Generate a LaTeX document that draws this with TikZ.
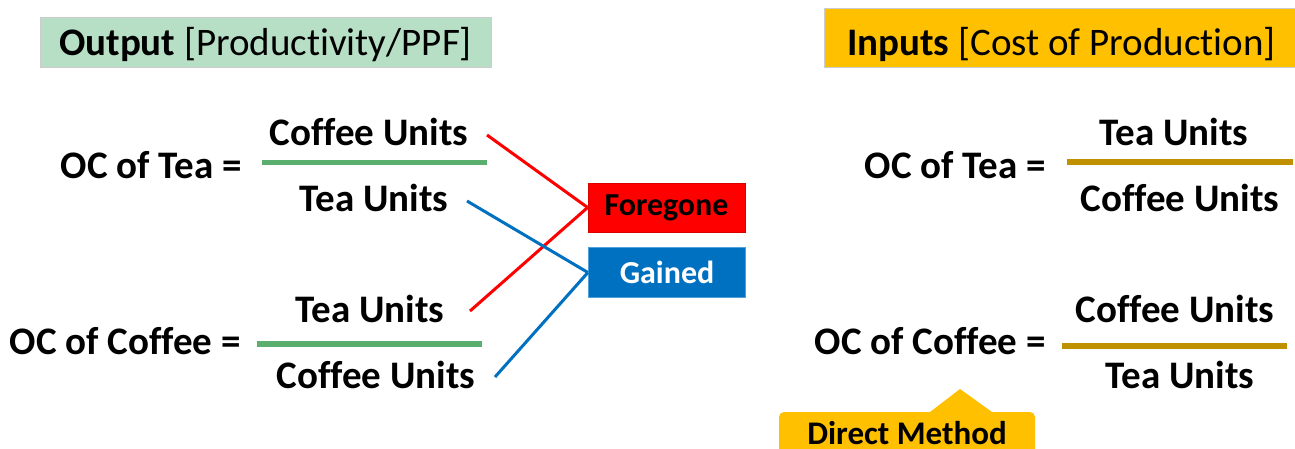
\documentclass[tikz,border=0pt]{standalone}
\usepackage{fontspec}
\setmainfont{Carlito}[Ligatures=NoCommon]
\definecolor{hdrgreen}{RGB}{183,223,197}
\definecolor{hdrgold}{RGB}{255,192,0}
\definecolor{bargreen}{RGB}{90,174,110}
\definecolor{bargold}{RGB}{191,144,0}
\definecolor{fgred}{RGB}{255,0,0}
\definecolor{gnblue}{RGB}{0,112,192}
\definecolor{gnborder}{RGB}{80,160,220}
\tikzset{
  txt/.style={inner sep=0pt, font=\fontsize{39}{41}\selectfont\bfseries},
  hdr/.style={inner sep=0pt, font=\fontsize{39}{41}\selectfont},
  gbar/.style={bargreen, line width=5.5pt},
  obar/.style={bargold, line width=6.5pt},
  redline/.style={fgred, line width=3pt},
  blueline/.style={gnblue, line width=3pt},
}
\begin{document}
\begin{tikzpicture}[x=1pt,y=-1pt]
\useasboundingbox (0,0) rectangle (1295,448);
\clip (0,0) rectangle (1295,448);
% headers
\fill[hdrgreen, draw=black!20, line width=0.6pt] (40,17) rectangle (491,67);
\node[hdr, anchor=base west] (hout) at (59,55) {\textbf{Output} [Productivity/PPF]};
\fill[hdrgold, draw=black!20, line width=0.6pt] (824,8) rectangle (1300,67);
\node[hdr, anchor=base west] (hin) at (847,55) {\textbf{Inputs} [Cost of Production]};
% left fractions
\node[txt, anchor=base east] (oct) at (242,178) {OC of Tea =};
\node[txt, anchor=base] (t1num) at (369,145) {Coffee Units};
\coordinate (lb1a) at (262,162.5);
\coordinate (lb1b) at (487,162.5);
\draw[gbar] (lb1a) -- (lb1b);
\node[txt, anchor=base] (t1den) at (374,211) {Tea Units};
\node[txt, anchor=base east] (occ) at (241,354) {OC of Coffee =};
\node[txt, anchor=base] (c1num) at (370,322) {Tea Units};
\coordinate (lb2a) at (257,344);
\coordinate (lb2b) at (482,344);
\draw[gbar] (lb2a) -- (lb2b);
\node[txt, anchor=base] (c1den) at (376,388) {Coffee Units};
% boxes
\node[fill=fgred, draw=fgred!85!black, line width=0.8pt, minimum width=157pt, minimum height=49pt, inner sep=0pt,
      font=\fontsize{32}{34}\selectfont\bfseries] (fore) at (666.5,207.5) {Foregone};
\node[fill=gnblue, draw=gnborder, line width=1.2pt, minimum width=157pt, minimum height=50pt, inner sep=0pt,
      text=white, font=\fontsize{32}{34}\selectfont\bfseries] (gain) at (667,272.5) {Gained};
% connectors
\coordinate (r1) at (487,135);
\coordinate (r2) at (470,311);
\coordinate (b1) at (467,201);
\coordinate (b2) at (495,377);
\draw[redline] (r1) -- (fore.west);
\draw[redline] (r2) -- (fore.west);
\draw[blueline] (b1) -- (gain.west);
\draw[blueline] (b2) -- (gain.west);
% right fractions
\node[txt, anchor=base east] (roct) at (1046,178) {OC of Tea =};
\node[txt, anchor=base] (t2num) at (1174,145) {Tea Units};
\coordinate (rb1a) at (1067,162);
\coordinate (rb1b) at (1293,162);
\draw[obar] (rb1a) -- (rb1b);
\node[txt, anchor=base] (t2den) at (1180,211) {Coffee Units};
\node[txt, anchor=base east] (rocc) at (1046,354) {OC of Coffee =};
\node[txt, anchor=base] (c2num) at (1175,322) {Coffee Units};
\coordinate (rb2a) at (1062,346);
\coordinate (rb2b) at (1287,346);
\draw[obar] (rb2a) -- (rb2b);
\node[txt, anchor=base] (c2den) at (1180,388) {Tea Units};
% callout
\fill[hdrgold] (779,455) -- (779,417) [rounded corners=5pt] -- (779,412) [sharp corners] -- (930,412) -- (960,389) -- (992,412) [rounded corners=5pt] -- (1035,412) [sharp corners] -- (1035,455) -- cycle;
\node[inner sep=0pt, anchor=base, font=\fontsize{33}{35}\selectfont\bfseries] (dm) at (907,444) {Direct Method};
\end{tikzpicture}
\end{document}
